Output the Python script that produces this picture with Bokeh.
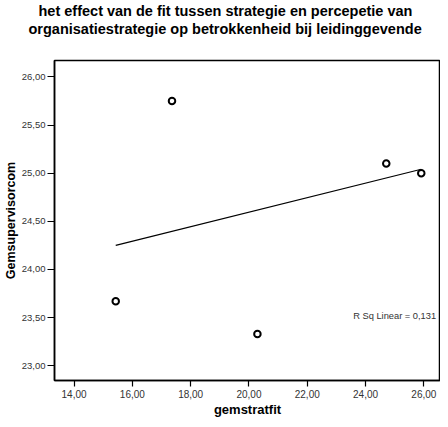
from bokeh.plotting import figure
from bokeh.models import FixedTicker, Label, Range1d, Title, ColumnDataSource
from bokeh.embed import file_html
from bokeh.resources import INLINE

# data
gemstratfit = [15.43, 17.36, 20.29, 24.71, 25.91]
gemsupervisorcom = [23.67, 25.75, 23.33, 25.10, 25.00]

# linear fit line (as drawn in the reference)
fit_x = [15.43, 25.91]
fit_y = [24.25, 25.04]
r_sq_text = "R Sq Linear = 0,131"

x_ticks = [14, 16, 18, 20, 22, 24, 26]
x_tick_labels = ["14,00", "16,00", "18,00", "20,00", "22,00", "24,00", "26,00"]
y_ticks = [23.0, 23.5, 24.0, 24.5, 25.0, 25.5, 26.0]
y_tick_labels = ["23,00", "23,50", "24,00", "24,50", "25,00", "25,50", "26,00"]

title_lines = ["het effect van de fit tussen strategie en percepetie van",
               "organisatiestrategie op  betrokkenheid bij leidinggevende"]

FONT = "Liberation Sans"

p = figure(width=440, height=419, output_backend="svg", toolbar_location=None,
           x_range=Range1d(13.33, 26.57), y_range=Range1d(22.846, 26.17),
           min_border_left=51, min_border_right=0, min_border_top=56,
           min_border_bottom=36)
p.title.text = ""

t2 = Title(text=title_lines[1], align="left", text_font=FONT,
           text_font_size="14.5px", text_font_style="bold", text_color="black",
           standoff=0, offset=-26, padding=(0, 0, 0, 24))
t1 = Title(text=title_lines[0], align="left", text_font=FONT,
           text_font_size="14.5px", text_font_style="bold", text_color="black",
           standoff=0, offset=-16)
p.add_layout(t2, "above")
p.add_layout(t1, "above")

p.xgrid.visible = False
p.ygrid.visible = False
p.outline_line_color = "black"
p.outline_line_width = 1.5
p.background_fill_color = "white"
p.border_fill_color = "white"

for ax in (p.xaxis[0], p.yaxis[0]):
    ax.axis_line_color = "black"
    ax.axis_line_width = 1.5
    ax.major_tick_line_color = "black"
    ax.major_tick_line_width = 1.2
    ax.major_tick_in = 0
    ax.minor_tick_line_color = None
    ax.major_label_text_font = FONT
    ax.major_label_text_color = "#333333"
    ax.axis_label_text_font = FONT
    ax.axis_label_text_font_style = "bold"
    ax.axis_label_text_color = "black"

p.xaxis.ticker = FixedTicker(ticks=x_ticks)
p.xaxis.major_label_overrides = dict(zip(x_ticks, x_tick_labels))
p.xaxis.major_tick_out = 6
p.xaxis.major_label_standoff = 3
p.xaxis.major_label_text_font_size = "10px"
p.xaxis.axis_label = "gemstratfit"
p.xaxis.axis_label_text_font_size = "13px"
p.xaxis.axis_label_standoff = 1

p.yaxis.ticker = FixedTicker(ticks=y_ticks)
p.yaxis.major_label_overrides = dict(zip(y_ticks, y_tick_labels))
p.yaxis.major_tick_out = 7
p.yaxis.major_label_standoff = 2
p.yaxis.major_label_text_font_size = "9.5px"
p.yaxis.axis_label = "Gemsupervisorcom"
p.yaxis.axis_label_text_font_size = "12.5px"
p.yaxis.axis_label_standoff = 1

p.line(fit_x, fit_y, line_color="black", line_width=1.2)

src = ColumnDataSource(dict(x=gemstratfit, y=gemsupervisorcom))
p.scatter("x", "y", source=src, marker="circle", size=6.5, line_color="black",
          line_width=2, fill_color="white")

p.add_layout(Label(x=26.42, y=23.52, text=r_sq_text, text_align="right",
                   text_baseline="middle", text_font=FONT, text_font_size="9.3px",
                   text_color="#333333"))

open("out.html", "w").write(file_html(p, INLINE))
